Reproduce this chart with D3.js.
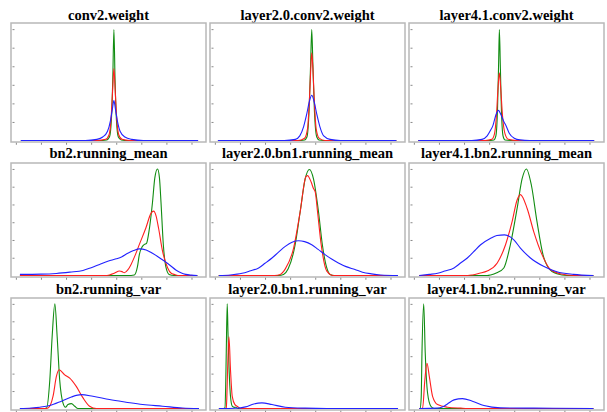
<!DOCTYPE html>
<html>
<head>
<meta charset="utf-8">
<script src="https://cdn.jsdelivr.net/npm/d3@7"></script>
<style>
  body { margin: 0; background: #fff; }
  text.title { font-family: "Liberation Serif", "Times New Roman", "DejaVu Serif", serif; }
</style>
</head>
<body>
<div id="chart"></div>
<script>
// Panel titles, row by row
const titles = [
    "conv2.weight", "layer2.0.conv2.weight", "layer4.1.conv2.weight",
    "bn2.running_mean", "layer2.0.bn1.running_mean", "layer4.1.bn2.running_mean",
    "bn2.running_var", "layer2.0.bn1.running_var", "layer4.1.bn2.running_var"
]

// Density curves: [x position %, density % of panel max]
const greenCurves = [
    [[4.6,0],[45,0],[49,0.5],[50.5,3],[51.5,18],[52.2,52],[52.8,95.7],[53.4,52],[54.1,18],[55.1,3],[56.6,0.5],[60,0],[96.4,0]],
    [[3.6,0],[45,0],[48.5,0.5],[49.7,3],[50.8,25],[51.6,65],[52.2,95.7],[52.8,65],[53.6,25],[54.8,3],[56,0.5],[60,0],[96,0]],
    [[4.3,0],[40,0],[43.5,0.5],[44.5,4],[45.4,30],[45.9,65],[46.3,95.7],[46.8,65],[47.3,30],[48.2,4],[49.2,0.5],[53,0],[95.4,0]],
    [[4.1,0],[60,0],[63.4,0.5],[65,8],[66,19],[67.5,26],[68.6,28],[69.7,29],[71,40],[72.8,66],[74,88],[75.4,96],[76.4,88],[77.2,66],[78.4,28],[79.7,8],[81.4,1],[84,0],[96,0]],
    [[4,0],[35,0],[37.6,1],[40,6],[43.6,27.7],[46.2,57.4],[48.8,87],[51,95.5],[53.1,87],[55.7,57.4],[57.7,27.7],[60,6.8],[61.7,1],[64,0],[96.9,0]],
    [[4.8,0],[40,0],[41.8,0.5],[45,2.5],[48.6,6.8],[52,27.7],[55.5,60.4],[58.1,87.2],[60.3,96],[62.9,81.3],[65.8,48.5],[68.9,18.8],[71.8,6.8],[76.1,1.5],[81.3,0],[95,0]],
    [[4.1,0],[16,0],[17.9,0.5],[19.6,26.4],[20.8,65.8],[22.2,96],[23.4,65.8],[24.7,26.4],[26.4,5.2],[27.7,1.2],[29,3.6],[30.8,4.5],[32.5,2.1],[34.2,0],[96.9,0]],
    [[4.1,0],[6.5,0],[7.2,0.5],[7.6,20],[7.9,50.6],[8.4,96],[8.8,70],[9.1,50.6],[10.1,11.2],[11,2.1],[12.1,1],[12.7,1.2],[13.3,0.6],[14,0],[96.9,0]],
    [[4.8,0],[5.3,0],[5.8,10],[6.2,50.6],[7.1,96],[7.9,50.6],[9.1,14.2],[10.8,2.1],[12.6,0],[95,0]]
]

const redCurves = [
    [[4.6,0],[44,0],[48.5,1],[50.3,5],[51.3,18],[52.1,42],[52.8,62],[53.5,42],[54.3,18],[55.3,5],[57,1],[61,0],[96.4,0]],
    [[3.6,0],[45,0],[48.5,2],[50,10],[51,35],[51.7,62],[52.2,75.6],[52.8,62],[53.5,35],[54.5,10],[56,2],[59,0],[96,0]],
    [[4.3,0],[39,0],[42.4,1],[43.8,6],[44.8,22],[45.6,45],[46.3,58.4],[47,45],[47.9,22],[49.2,6],[51,1],[55,0],[95.4,0]],
    [[4.1,0],[48,0],[50.5,0.5],[53,2],[55.7,4],[57,3.5],[58.2,2.5],[60,5],[61.7,10],[64,19],[66,28],[69.4,43],[72,56],[73.4,58],[74.6,54],[75.9,43],[78,22],[80.6,7],[82.5,2],[84,1],[86,0],[96,0]],
    [[4,0],[33,0],[35.9,1],[38.5,6],[42.8,24.7],[46.2,57.4],[49.1,88.7],[50,90],[51.9,84.2],[53.1,78.3],[54,75.3],[55.2,57.4],[57.1,27.7],[60,4],[63.4,0],[96.9,0]],
    [[4.8,0],[30,0],[32.3,0.5],[36,2],[40,4],[45.2,11.3],[49.5,27.7],[52.9,48.5],[55.5,68],[57.2,72.9],[60.7,60.4],[64.1,39.6],[68.4,18.8],[72.7,5.4],[77.8,1.5],[84.7,0],[95,0]],
    [[4.1,0],[17,0],[18.7,0.5],[21.3,11.5],[23,29.4],[24.4,35.5],[27.3,30.9],[29.9,27.9],[33.3,20.3],[36.8,9.7],[40.2,2.1],[43.7,0],[96.9,0]],
    [[4.1,0],[7.5,0],[7.9,0.5],[8.2,10],[8.6,35.5],[9.3,65.7],[10.1,35.5],[11,11.2],[12.4,3.6],[14,1.5],[15.3,0],[96.9,0]],
    [[4.8,0],[6.5,0],[7.7,26.4],[8.8,41.5],[10,29.4],[11.7,11.2],[14.3,3.6],[19.4,1.2],[26.3,0.3],[29.8,0],[95,0]]
]

const blueCurves = [
    [[4.6,0],[38,0],[44,1],[47,3],[49.5,8],[51,17],[52,27],[52.8,34.5],[53.6,27],[54.6,17],[56,8],[58.5,3],[62,1],[68,0],[96.4,0]],
    [[3.6,0],[38,0],[43.7,1],[46,4],[48,12],[49.5,22],[50.9,33],[52.2,39],[53.5,33],[54.9,22],[56.4,12],[58.4,4],[61.7,1],[67,0],[96,0]],
    [[4.3,0],[32,0],[37.3,1],[40,4],[41.8,9],[43,13],[44.5,22],[45.8,26],[47.2,22],[48.7,16],[49.7,13],[51.5,6],[54,2],[57,0.5],[62,0],[95.4,0]],
    [[4.1,1],[15,1.2],[23,1.8],[30,3],[36.8,4.5],[41,7],[45.4,10],[50,13],[54,15],[57,17],[60,20],[63,22.5],[66,24],[69.5,23],[72.8,20],[76,16.5],[78.9,13],[82,9],[84.9,5],[87.5,2.5],[90,1],[93,0.3],[96,0]],
    [[4.1,0],[10,0.5],[16.1,2],[20,4],[24.7,6.8],[28,11],[31.6,15.8],[35,21],[38.5,26.2],[42,30],[45.4,31.25],[48.5,30.5],[52.2,27.7],[55.5,23.5],[59.1,18.8],[62.5,14.8],[66,11.3],[70,8],[74.6,5.4],[78.5,3],[83.1,1.5],[88,0.5],[96.9,0]],
    [[4.8,0],[10,1],[14.3,2],[18,4],[22.8,6.8],[26,11],[29.7,15.8],[33,21.5],[36.6,27.7],[41.8,33.6],[45,36],[49,36.6],[53.8,32.1],[57.2,24.7],[62.4,15.8],[69.2,8.3],[76.1,3.3],[84.7,1],[95,0]],
    [[4.1,0],[10,0.5],[14.4,1.2],[19.6,2.7],[25.6,6.7],[30.8,10.6],[35.9,12.7],[41.9,11.2],[50.5,8.2],[59.1,5.8],[67.7,3.6],[78,2.1],[88.3,0.5],[96.9,0]],
    [[4.1,0],[12.7,0.2],[17.9,1.5],[22.2,4.2],[26.4,5.2],[31.6,3.6],[38.5,1.2],[48.8,0.3],[60,0],[96.9,0]],
    [[4.8,0],[14.2,0.3],[17,1.5],[19.4,4.2],[22.8,7.9],[27.2,9.1],[32.3,6.7],[38.3,2.7],[46.9,0.6],[64,0.3],[95,0]]
]

const seriesColors = ["#118c11", "#ff1f1f", "#2222ff"]

// Grid layout of the 3x3 panels
const width = 607, height = 412
const colX = [11, 210, 409], panelW = 195
const rowY = [23, 163, 298], rowH = [119, 114, 112]
const titleY = [20, 158, 294]

const svg = d3.select("#chart")
    .append("svg")
    .attr("width", width)
    .attr("height", height)

titles.forEach(function (title, i) {
    const r = Math.floor(i / 3), c = i % 3
    const h = rowH[r]

    svg.append("text")
        .attr("class", "title")
        .attr("x", colX[c] + panelW / 2)
        .attr("y", titleY[r])
        .attr("text-anchor", "middle")
        .attr("font-weight", "bold")
        .attr("font-size", "14.5px")
        .attr("fill", "#000")
        .text(title)

    const g = svg.append("g")
        .attr("transform", "translate(" + colX[c] + "," + rowY[r] + ")")

    const x = d3.scaleLinear().domain([0, 100]).range([1, panelW - 1])
    const y = d3.scaleLinear().domain([0, 100]).range([h - 1.5, 1.5])

    // frame
    g.append("rect")
        .attr("width", panelW)
        .attr("height", h)
        .attr("fill", "#fff")
        .attr("stroke", "#b8b8b8")
        .attr("stroke-width", 1.5)

    // tiny tick marks, no labels
    const xAxis = g.append("g")
        .attr("transform", "translate(0," + (h + 0.75) + ")")
        .call(d3.axisBottom(x).tickValues(d3.range(2, 100, 13)).tickSize(2).tickFormat(""))
    const yAxis = g.append("g")
        .attr("transform", "translate(1.5,0)")
        .call(d3.axisLeft(y).tickValues([16, 32, 48, 64, 80, 96]).tickSize(-2).tickFormat(""))
    ;[xAxis, yAxis].forEach(function (a) {
        a.select(".domain").remove()
        a.selectAll("line").attr("stroke", "#888")
    })

    const line = d3.line()
        .x(function (d) { return x(d[0]) })
        .y(function (d) { return y(d[1]) })
        .curve(d3.curveMonotoneX)

    ;[greenCurves[i], redCurves[i], blueCurves[i]].forEach(function (pts, k) {
        g.append("path")
            .datum(pts)
            .attr("d", line)
            .attr("fill", "none")
            .attr("stroke", seriesColors[k])
            .attr("stroke-width", 1.1)
    })
})
</script>
</body>
</html>
